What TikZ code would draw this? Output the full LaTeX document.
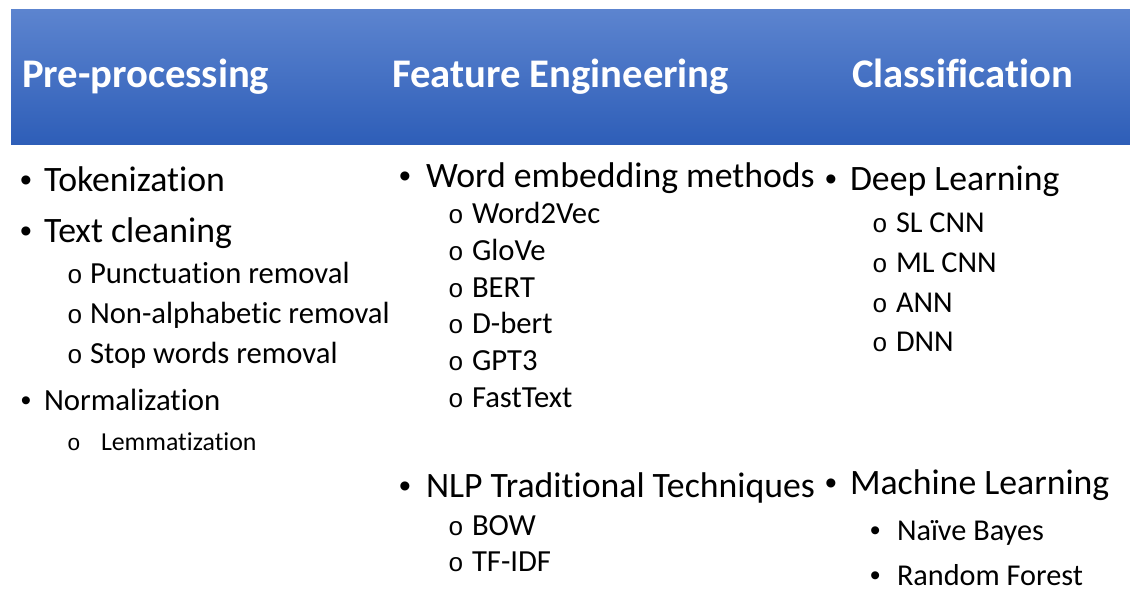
\documentclass[tikz,border=0pt]{standalone}
\usepackage{fontspec}
\setmainfont[Ligatures=NoCommon]{Carlito}
\newfontfamily\bulletfont{Liberation Sans}
\newfontfamily\ringfont{Liberation Mono}
\begin{document}
\begin{tikzpicture}[x=0.75pt,y=-0.75pt,
  every node/.style={inner sep=0pt,outer sep=0pt,anchor=base west,text=black},
  head/.style={text=white,font=\fontsize{30.5}{31}\selectfont\bfseries},
  itemA/.style={font=\fontsize{26.8}{27}\selectfont},
  itemN/.style={font=\fontsize{23.1}{23}\selectfont},
  itemB/.style={font=\fontsize{23}{23}\selectfont},
  itemC/.style={font=\fontsize{22.7}{23}\selectfont},
  itemL/.style={font=\fontsize{19.4}{19}\selectfont},
  dotA/.style={font=\bulletfont\fontsize{25}{25}\selectfont},
  dotN/.style={font=\bulletfont\fontsize{22}{22}\selectfont},
  dotB/.style={font=\bulletfont\fontsize{22}{22}\selectfont},
  ringB/.style={font=\ringfont\fontsize{19.5}{20}\selectfont},
  ringL/.style={font=\ringfont\fontsize{17}{17}\selectfont}]
\useasboundingbox (0,0) rectangle (1130,592);
\definecolor{bandtop}{RGB}{92,132,207}
\definecolor{bandbot}{RGB}{46,94,184}
% heading band
\shade[top color=bandtop,bottom color=bandbot] (11,10) rectangle (1130,144);
\node[head] (h1) at (22,88) {Pre-processing};
\node[head] (h2) at (392,88) {Feature Engineering};
\node[head] (h3) at (852,88) {Classification};

% pre-processing column
\node[dotA] (d11) at (20,191) {•};
\node[itemA] (t11) at (44,191) {Tokenization};
\node[dotA] (d12) at (20,242) {•};
\node[itemA] (t12) at (44,242) {Text cleaning};
\node[ringB] (r121) at (67,283) {o};
\node[itemB] (t121) at (90,283) {Punctuation removal};
\node[ringB] (r122) at (67,323) {o};
\node[itemB] (t122) at (90,323) {Non-alphabetic removal};
\node[ringB] (r123) at (67,363) {o};
\node[itemB] (t123) at (90,363) {Stop words removal};
\node[dotN] (d13) at (21,410) {•};
\node[itemN] (t13) at (44,410) {Normalization};
\node[ringL] (r131) at (67,450) {o};
\node[itemL] (t131) at (101,450) {Lemmatization};

% feature engineering column
\node[dotA] (d21) at (399,187) {•};
\node[itemA] (t21) at (426,187) {Word embedding methods};
\node[ringB] (r211) at (448,223) {o};
\node[itemB] (t211) at (472,223) {Word2Vec};
\node[ringB] (r212) at (448,260) {o};
\node[itemB] (t212) at (472,260) {GloVe};
\node[ringB] (r213) at (448,297) {o};
\node[itemB] (t213) at (472,297) {BERT};
\node[ringB] (r214) at (448,333) {o};
\node[itemB] (t214) at (472,333) {D-bert};
\node[ringB] (r215) at (448,370) {o};
\node[itemB] (t215) at (472,370) {GPT3};
\node[ringB] (r216) at (448,407) {o};
\node[itemB] (t216) at (472,407) {FastText};
\node[dotA] (d22) at (399,497) {•};
\node[itemA] (t22) at (426,497) {NLP Traditional Techniques};
\node[ringB] (r221) at (448,535) {o};
\node[itemB] (t221) at (472,535) {BOW};
\node[ringB] (r222) at (448,571) {o};
\node[itemB] (t222) at (472,571) {TF-IDF};

% classification column
\node[dotA] (d31) at (825,190) {•};
\node[itemA] (t31) at (850,190) {Deep Learning};
\node[ringB] (r311) at (872,232) {o};
\node[itemC] (t311) at (896,232) {SL CNN};
\node[ringB] (r312) at (872,272) {o};
\node[itemC] (t312) at (896,272) {ML CNN};
\node[ringB] (r313) at (872,312) {o};
\node[itemC] (t313) at (896,312) {ANN};
\node[ringB] (r314) at (872,351) {o};
\node[itemC] (t314) at (896,351) {DNN};
\node[dotA] (d32) at (825,494) {•};
\node[itemA] (t32) at (850,494) {Machine Learning};
\node[dotB] (d321) at (870,540) {•};
\node[itemC] (t321) at (897,540) {Naïve Bayes};
\node[dotB] (d322) at (870,585) {•};
\node[itemC] (t322) at (897,585) {Random Forest};
\end{tikzpicture}
\end{document}
